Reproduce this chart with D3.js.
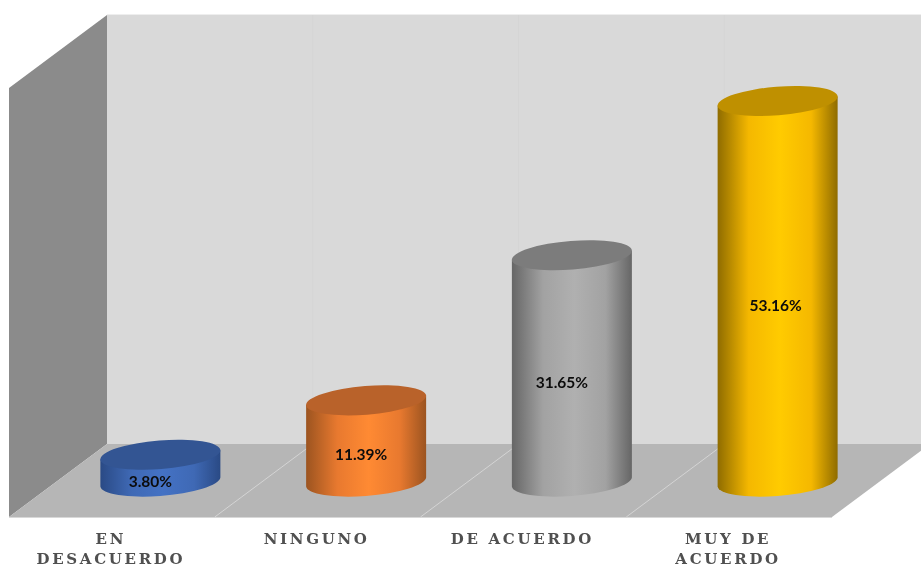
<!DOCTYPE html>
<html><head><meta charset="utf-8">
<script src="https://cdn.jsdelivr.net/npm/d3@7"></script>
<style>html,body{margin:0;padding:0;background:#fff;overflow:hidden}svg{display:block;filter:blur(0.45px)}</style>
</head><body><svg id="c" width="921" height="569"></svg>
<script>
const categories = ["EN DESACUERDO","NINGUNO","DE ACUERDO","MUY DE ACUERDO"];
const categoryLines = [["EN","DESACUERDO"],["NINGUNO"],["DE ACUERDO"],["MUY DE","ACUERDO"]];
const values = [3.80,11.39,31.65,53.16];
const valueLabels = ["3.80%","11.39%","31.65%","53.16%"];
const midColors = ["#4472c4","#ff8a33","#b0b0b0","#ffcb00"];
const sideColors = ["#3f69b5","#e8792f","#a2a2a2","#f5b800"];
const edgeColors = ["#2a4a85","#9c5420","#666666","#8f6c00"];
const topColors = ["#335593","#b9622a","#7c7c7c","#bf9000"];

const W=921,H=569, depthX=98, depthY=73, floorFront=517, floorBack=444, wallTop=15;
const svg=d3.select("#c");
const x=d3.scaleBand().domain(categories).range([9,832]);
const y=d3.scaleLinear().domain([0,60]).range([0,430]);
const gridX=[...categories.map(c=>x(c)),x.range()[1]];

// walls and floor
const poly=(pts,fill)=>svg.append("polygon").attr("points",pts.map(p=>p.join(",")).join(" ")).attr("fill",fill);
const x0=9,xN=832;
poly([[x0+depthX,floorBack],[xN+depthX,floorBack],[xN+depthX,wallTop],[x0+depthX,wallTop]],"#d9d9d9");
poly([[x0,floorFront],[x0+depthX,floorBack],[x0+depthX,wallTop],[x0,floorFront-429]],"#8b8b8b");
poly([[x0,floorFront],[xN,floorFront],[xN+depthX,floorBack],[x0+depthX,floorBack]],"#b6b6b6");
svg.append("line").attr("x1",x0).attr("x2",xN).attr("y1",floorFront+.5).attr("y2",floorFront+.5).attr("stroke","#d8d8d8");
svg.append("line").attr("x1",x0+depthX).attr("x2",W).attr("y1",wallTop-.5).attr("y2",wallTop-.5).attr("stroke","#eeeeee");
// grid
gridX.slice(1,-1).forEach(g=>{
  svg.append("line").attr("x1",g).attr("y1",floorFront).attr("x2",g+depthX).attr("y2",floorBack).attr("stroke","#d4d4d4").attr("stroke-width",1);
  svg.append("line").attr("x1",g+depthX).attr("y1",floorBack).attr("x2",g+depthX).attr("y2",wallTop).attr("stroke","#d5d5d5").attr("stroke-width",1);
});
// cylinders
const defs=svg.append("defs");
const baseY=482, hw=60, tilt=4.5, a=60.2, b=14.3, rot=-4.55, cxShift=-0.5;
const labelDx=[-10,-5,-10,-2];
categories.forEach((c,i)=>{
  const id="g"+i;
  const g=defs.append("linearGradient").attr("id",id).attr("x1",0).attr("x2",1).attr("y1",0).attr("y2",0);
  [[0,edgeColors[i]],[.26,sideColors[i]],[.52,midColors[i]],[.78,sideColors[i]],[1,edgeColors[i]]]
    .forEach(s=>g.append("stop").attr("offset",s[0]).attr("stop-color",s[1]));
  const cx=x(c)+x.bandwidth()/2+depthX/2+cxShift;
  const ty=baseY-y(values[i]);
  svg.append("path").attr("fill",`url(#${id})`)
    .attr("d",`M${cx-hw},${ty+tilt}L${cx-hw},${baseY+tilt}A${a},${b} ${rot} 0 0 ${cx+hw},${baseY-tilt}L${cx+hw},${ty-tilt}Z`);
  svg.append("ellipse").attr("cx",cx).attr("cy",ty).attr("rx",a).attr("ry",b)
    .attr("transform",`rotate(${rot} ${cx} ${ty})`).attr("fill",topColors[i]);
  svg.append("text").attr("x",cx+labelDx[i]).attr("y",(baseY+ty)/2+13+6)
    .attr("text-anchor","middle").attr("font-family","Lato,sans-serif").attr("font-weight",700)
    .attr("font-size",15.5).attr("fill","#0c0c0c").text(valueLabels[i]);
});
// category axis
const axis=d3.axisBottom(x).tickSize(0).tickPadding(0);
const ag=svg.append("g").attr("transform",`translate(0,${floorFront})`).call(axis);
ag.select(".domain").remove();
ag.selectAll(".tick text").each(function(d,i){
  const t=d3.select(this).text(null).attr("y",0).attr("dy",null)
    .attr("font-family","'DejaVu Serif',serif").attr("font-weight",700).attr("font-size",15)
    .attr("letter-spacing",2.7).attr("fill","#505050").attr("text-anchor","middle");
  categoryLines[i].forEach((l,k)=>t.append("tspan").attr("x",-1).attr("y",27+k*20).text(l));
});
</script></body></html>
